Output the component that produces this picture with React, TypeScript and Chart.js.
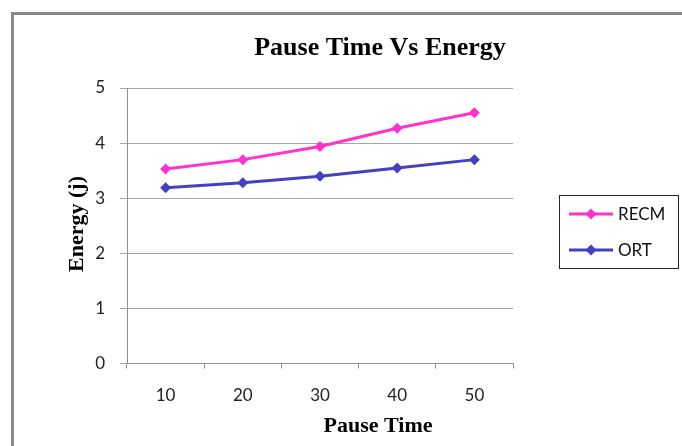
import { useEffect, useRef } from "react";
import { Chart, registerables } from "chart.js";

Chart.register(...registerables);

const categories = ["10", "20", "30", "40", "50"];
const recmValues = [3.53, 3.7, 3.94, 4.27, 4.55];
const ortValues = [3.19, 3.28, 3.4, 3.55, 3.7];
const yMin = 0;
const yMax = 5;
const yStep = 1;
const seriesNames = ["RECM", "ORT"];
const titleText = "Pause Time Vs Energy";
const xTitleText = "Pause Time";
const yTitleText = "Energy (j)";

const RECM_COLOR = "#ff33cc";
const ORT_COLOR = "#4141c2";
const TICK_FONT = "Lato";
const SERIF = "'Liberation Serif'";

const decoPlugin = {
  id: "deco",
  beforeDraw(chart: any) {
    const ctx = chart.ctx;
    ctx.save();
    ctx.fillStyle = "#ffffff";
    ctx.fillRect(0, 0, chart.width, chart.height);
    ctx.restore();
  },
  afterDraw(chart: any) {
    const ctx = chart.ctx;
    ctx.save();
    // outer chart border
    ctx.strokeStyle = "#8a8a8a";
    ctx.lineWidth = 3;
    ctx.strokeRect(12.5, 13.5, 900, 900);

    // titles
    ctx.fillStyle = "#000000";
    ctx.textAlign = "center";
    ctx.textBaseline = "alphabetic";
    ctx.font = `bold 26px ${SERIF}`;
    ctx.fillText(titleText, 380, 55);
    ctx.font = `bold 22px ${SERIF}`;
    ctx.fillText(xTitleText, 378, 432);
    ctx.save();
    ctx.translate(83, 224);
    ctx.rotate(-Math.PI / 2);
    ctx.fillText(yTitleText, 0, 0);
    ctx.restore();

    // legend
    ctx.strokeStyle = "#222222";
    ctx.lineWidth = 1;
    ctx.strokeRect(559.5, 195.5, 119, 73);
    const rows = [214, 250];
    chart.data.datasets.forEach((ds: any, i: number) => {
      const y = rows[i];
      ctx.strokeStyle = ds.borderColor;
      ctx.lineWidth = 3;
      ctx.beginPath();
      ctx.moveTo(569, y);
      ctx.lineTo(613, y);
      ctx.stroke();
      ctx.fillStyle = ds.borderColor;
      ctx.beginPath();
      ctx.moveTo(591, y - 5.5);
      ctx.lineTo(596.5, y);
      ctx.lineTo(591, y + 5.5);
      ctx.lineTo(585.5, y);
      ctx.closePath();
      ctx.fill();
      ctx.fillStyle = "#111111";
      ctx.font = `17px ${TICK_FONT}`;
      ctx.textAlign = "left";
      ctx.textBaseline = "middle";
      ctx.fillText(ds.label, 618, y + 1);
    });
    ctx.restore();
  },
};

export default function App() {
  const ref = useRef<HTMLCanvasElement | null>(null);
  useEffect(() => {
    if (!ref.current) return;
    const chart = new Chart(ref.current, {
      type: "line",
      data: {
        labels: categories,
        datasets: [
          {
            label: seriesNames[0],
            data: recmValues,
            borderColor: RECM_COLOR,
            backgroundColor: RECM_COLOR,
            borderWidth: 3,
            pointStyle: "rectRot",
            pointRadius: 5.5,
            pointBorderWidth: 0,
            tension: 0,
          },
          {
            label: seriesNames[1],
            data: ortValues,
            borderColor: ORT_COLOR,
            backgroundColor: ORT_COLOR,
            borderWidth: 3,
            pointStyle: "rectRot",
            pointRadius: 5.5,
            pointBorderWidth: 0,
            tension: 0,
          },
        ],
      },
      options: {
        animation: false,
        responsive: false,
        maintainAspectRatio: false,
        layout: { padding: { top: 88, right: 169, left: 0, bottom: 0 } },
        plugins: {
          legend: { display: false },
          title: { display: false },
          tooltip: { enabled: false },
        },
        scales: {
          x: {
            type: "category",
            offset: true,
            afterFit: (s: any) => {
              s.height = 82.5;
            },
            grid: {
              offset: true,
              drawOnChartArea: false,
              drawTicks: true,
              tickLength: 5,
              color: "#8f8f8f",
            },
            border: { display: true, color: "#8f8f8f", width: 1 },
            ticks: {
              color: "#222222",
              font: { family: TICK_FONT, size: 17 },
              padding: 17,
              maxRotation: 0,
            },
          },
          y: {
            min: yMin,
            max: yMax,
            afterFit: (s: any) => {
              s.width = 127;
            },
            grid: {
              color: "#a6a6a6",
              tickLength: 7,
              drawTicks: true,
            },
            border: { display: true, color: "#8f8f8f", width: 1 },
            ticks: {
              stepSize: yStep,
              color: "#222222",
              font: { family: TICK_FONT, size: 17 },
              padding: 15,
            },
          },
        },
      },
      plugins: [decoPlugin],
    });
    return () => chart.destroy();
  }, []);
  return (
    <div style={{ position: "fixed", left: 0, top: 0, width: 682, height: 446, background: "#fff" }}>
      <canvas ref={ref} width={682} height={446} style={{ width: 682, height: 446, display: "block" }} />
    </div>
  );
}
